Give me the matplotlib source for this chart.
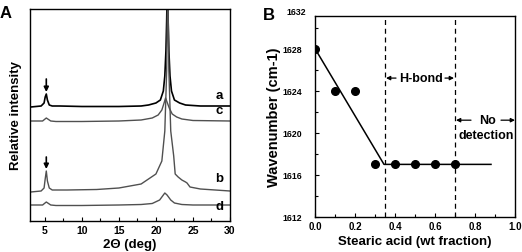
import matplotlib
matplotlib.use('Agg')
from matplotlib import pyplot as plt
from matplotlib.ticker import MultipleLocator

plt.rcParams['font.family'] = ['Liberation Sans', 'DejaVu Sans']
plt.rcParams['font.weight'] = 'bold'

# panel A: XRD traces (stacked, y in arbitrary offset units)
a_x = [3.1, 4.5, 4.9, 5.05, 5.2, 5.35, 5.6, 6.0, 7.0, 10, 15, 18, 19.0, 20.0, 20.6, 21.0, 21.2, 21.35, 21.45,
       21.55, 21.65, 21.75, 21.9, 22.1, 22.5, 23.2, 24, 26, 30]
a_y = [114, 115, 118, 124, 127, 121, 116, 115, 115, 114.5, 114.5, 115, 116, 118, 121, 130, 145, 170, 200,
       240, 200, 170, 145, 130, 121, 118, 116, 115, 115]
c_x = [3.1, 4.7, 5.2, 5.8, 6.5, 10, 15, 18, 19.5, 20.3, 20.8, 21.1, 21.3, 21.5, 21.8, 22.2, 22.8, 23.5, 25, 30]
c_y = [100, 100, 103, 100, 99.5, 99.5, 100, 101, 103, 106, 111, 118, 123, 119, 113, 107, 104, 102, 100.5, 100]
b_x = [3.1, 4.5, 4.9, 5.05, 5.2, 5.35, 5.6, 6.0, 8, 12, 15, 18, 20, 20.8, 21.2, 21.45, 21.6,
       21.75, 22.0, 22.4, 22.6, 23.0, 23.5, 24.0, 24.2, 24.6, 26, 30]
b_y = [29, 30, 33, 42, 50, 40, 33, 31, 31, 31.5, 33, 37, 47, 60, 90, 150, 240,
       150, 90, 65, 47, 44, 41, 39, 38, 34, 32, 30]
d_x = [3.1, 4.7, 5.2, 5.8, 6.5, 10, 15, 18, 19.5, 20.5, 21.0, 21.2, 21.5, 22.0, 22.5, 23.5, 25, 30]
d_y = [16, 16, 19, 16, 15.5, 15.5, 16, 16.5, 17.5, 21, 26, 28, 26, 21, 18, 16.5, 16, 16]
trace_labels = ['a', 'c', 'b', 'd']
label_y = [120, 105, 37, 9]
arrow_tail = [(5.2, 142), (5.2, 64)]
arrow_head = [(5.2, 129), (5.2, 52)]

# panel B: wavenumber vs stearic acid fraction
frac = [0.0, 0.1, 0.2, 0.3, 0.4, 0.5, 0.6, 0.7]
wavenumber = [1628, 1624, 1624, 1617, 1617, 1617, 1617, 1617]
fit_x = [0.0, 0.345, 0.88]
fit_y = [1628, 1617, 1617]
bounds = [0.35, 0.70]

fig = plt.figure(figsize=(5.22, 2.53), dpi=100)

axA = fig.add_axes([30/522, 1-222/253, 200/522, 212/253])
axA.plot(a_x, a_y, color='black', lw=1.2)
axA.plot(c_x, c_y, color='#505050', lw=1.0)
axA.plot(b_x, b_y, color='#505050', lw=1.0)
axA.plot(d_x, d_y, color='#505050', lw=1.0)
for t, y in zip(trace_labels, label_y):
    axA.text(28.6, y, t, fontsize=9.5, fontweight='bold', ha='center', va='bottom')
for tail, head in zip(arrow_tail, arrow_head):
    axA.annotate('', xy=head, xytext=tail,
                 arrowprops=dict(arrowstyle='-|>', color='black', lw=1.2, mutation_scale=7,
                                 shrinkA=0, shrinkB=0))
axA.set_xlim(3, 30)
axA.set_ylim(0, 212)
axA.set_yticks([])
axA.xaxis.set_major_locator(MultipleLocator(5))
axA.xaxis.set_minor_locator(MultipleLocator(2.5))
axA.tick_params(axis='x', direction='in', labelsize=7.5, length=3, width=0.8, pad=3)
axA.tick_params(axis='x', which='minor', direction='in', length=2, width=0.8)
axA.set_xlabel('2\u0398 (deg)', fontsize=9.5, fontweight='bold', labelpad=2)
axA.set_ylabel('Relative intensity', fontsize=9.5, fontweight='bold', labelpad=6)
for s in axA.spines.values():
    s.set_linewidth(1.0)
fig.text(0.0, 1-18/253, 'A', fontsize=12, fontweight='bold')

axB = fig.add_axes([315/522, 1-218/253, 200/522, 201/253])
axB.plot(fit_x, fit_y, color='black', lw=1.1)
axB.plot(frac, wavenumber, 'o', color='black', ms=5.5)
for b in bounds:
    axB.axvline(b, color='black', lw=0.9, ls=(0, (4, 3)))
arrow_kw = dict(arrowstyle='-|>', color='black', lw=0.9, mutation_scale=6, shrinkA=0, shrinkB=0)
axB.text(0.53, 1625.2, 'H-bond', fontsize=9, fontweight='bold', ha='center', va='center')
axB.annotate('', xy=(0.355, 1625.2), xytext=(0.405, 1625.2), arrowprops=arrow_kw)
axB.annotate('', xy=(0.695, 1625.2), xytext=(0.65, 1625.2), arrowprops=arrow_kw)
axB.text(0.865, 1621.2, 'No', fontsize=9, fontweight='bold', ha='center', va='center')
axB.text(0.855, 1619.8, 'detection', fontsize=9, fontweight='bold', ha='center', va='center')
axB.annotate('', xy=(0.705, 1621.2), xytext=(0.78, 1621.2), arrowprops=arrow_kw)
axB.annotate('', xy=(1.0, 1621.2), xytext=(0.93, 1621.2), arrowprops=arrow_kw,
             annotation_clip=False)
axB.set_xlim(0, 1.0)
axB.set_ylim(1612, 1631.1)
axB.xaxis.set_major_locator(MultipleLocator(0.2))
axB.xaxis.set_minor_locator(MultipleLocator(0.1))
axB.yaxis.set_major_locator(MultipleLocator(4))
axB.yaxis.set_minor_locator(MultipleLocator(2))
axB.set_xticks([0, 0.2, 0.4, 0.6, 0.8, 1.0])
axB.set_xticklabels(['0.0', '0.2', '0.4', '0.6', '0.8', '1.0'])
axB.tick_params(axis='x', direction='in', labelsize=7, length=3, width=0.8, pad=3)
axB.tick_params(axis='y', direction='in', labelsize=6.3, length=3, width=0.8, pad=9)
axB.tick_params(axis='both', which='minor', direction='in', length=2, width=0.8)
# top label sits above the frame in the original figure
axB.text(-0.045, 1.0, '1632', transform=axB.transAxes, fontsize=6.3, fontweight='bold',
         ha='right', va='bottom')
axB.set_xlabel('Stearic acid (wt fraction)', fontsize=9.5, fontweight='bold', labelpad=3)
axB.set_ylabel('Wavenumber (cm-1)', fontsize=10.5, fontweight='bold', labelpad=1)
for s in axB.spines.values():
    s.set_linewidth(1.0)
fig.text(263/522, 1-20/253, 'B', fontsize=12, fontweight='bold')

fig.savefig('out.png', dpi=100)
